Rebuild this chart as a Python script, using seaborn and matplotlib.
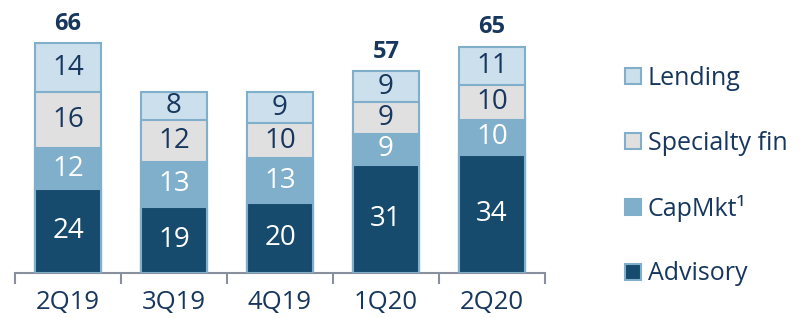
import matplotlib
matplotlib.use("Agg")
import matplotlib.pyplot as plt
from matplotlib.lines import Line2D
import seaborn as sns
import numpy as np

quarters = ["2Q19", "3Q19", "4Q19", "1Q20", "2Q20"]
advisory = [24, 19, 20, 31, 34]
capmkt = [12, 13, 13, 9, 10]
specialty = [16, 12, 10, 9, 10]
lending = [14, 8, 9, 9, 11]
totals = ["66", "", "", "57", "65"]

series_names = ["Advisory", "CapMkt¹", "Specialty fin", "Lending"]
series_vals = [advisory, capmkt, specialty, lending]
colors = ["#174B6E", "#80AFCB", "#E0E0E0", "#CCDFEC"]
text_colors = ["white", "white", "#17375E", "#17375E"]
navy = "#17375E"
edge = "#80AFCB"

sns.set_theme(style="white")
plt.rcParams["font.family"] = ["Open Sans", "DejaVu Sans"]

fig = plt.figure(figsize=(8.02, 3.18), dpi=100)
ax = fig.add_axes([15 / 802, 45 / 318, 530 / 802, 253 / 318])

cum = np.cumsum(np.array(series_vals), axis=0)
# draw from the top cumulative down so lower segments overlay
for i in range(len(series_vals) - 1, -1, -1):
    sns.barplot(x=quarters, y=cum[i], color=colors[i], width=0.62,
                edgecolor=edge, linewidth=1.5, saturation=1, ax=ax, zorder=2 + (3 - i))

for i, vals in enumerate(series_vals):
    base = cum[i] - np.array(vals)
    for j, v in enumerate(vals):
        ax.text(j, base[j] + v / 2, str(v), ha="center", va="center",
                fontsize=20, color=text_colors[i], zorder=10)

for j, t in enumerate(totals):
    if t:
        ax.text(j, cum[-1][j] + 2.2, t, ha="center", va="bottom",
                fontsize=17, fontweight="bold", color=navy, zorder=10)

ax.set_xlim(-0.5, 4.5)
ax.set_ylim(0, 72.7)
ax.set_yticks([])
ax.set_ylabel("")
for s in ["left", "right", "top"]:
    ax.spines[s].set_visible(False)
ax.spines["bottom"].set_color("#8A8F9E")
ax.spines["bottom"].set_linewidth(1.5)
ax.set_xticks(range(5))
ax.set_xticklabels(quarters, fontsize=18.5, color=navy)
ax.set_xticks(np.arange(-0.5, 5, 1), minor=True)
ax.tick_params(axis="x", which="major", length=0, pad=12)
ax.tick_params(axis="x", which="minor", length=8, width=1.5, color="#8A8F9E", direction="out", bottom=True)

handles = [Line2D([], [], marker="s", linestyle="none", markersize=12,
                  markerfacecolor=colors[i], markeredgecolor=edge, markeredgewidth=1.5)
           for i in range(3, -1, -1)]
labels = [series_names[i] for i in range(3, -1, -1)]
leg = fig.legend(handles, labels, loc="upper left", bbox_to_anchor=(610 / 802, 1 - 56 / 318),
                 frameon=False, fontsize=18, labelspacing=1.58, handletextpad=0.1,
                 handlelength=1.0, borderaxespad=0)
for t in leg.get_texts():
    t.set_color(navy)

fig.savefig("out.png", dpi=100)
